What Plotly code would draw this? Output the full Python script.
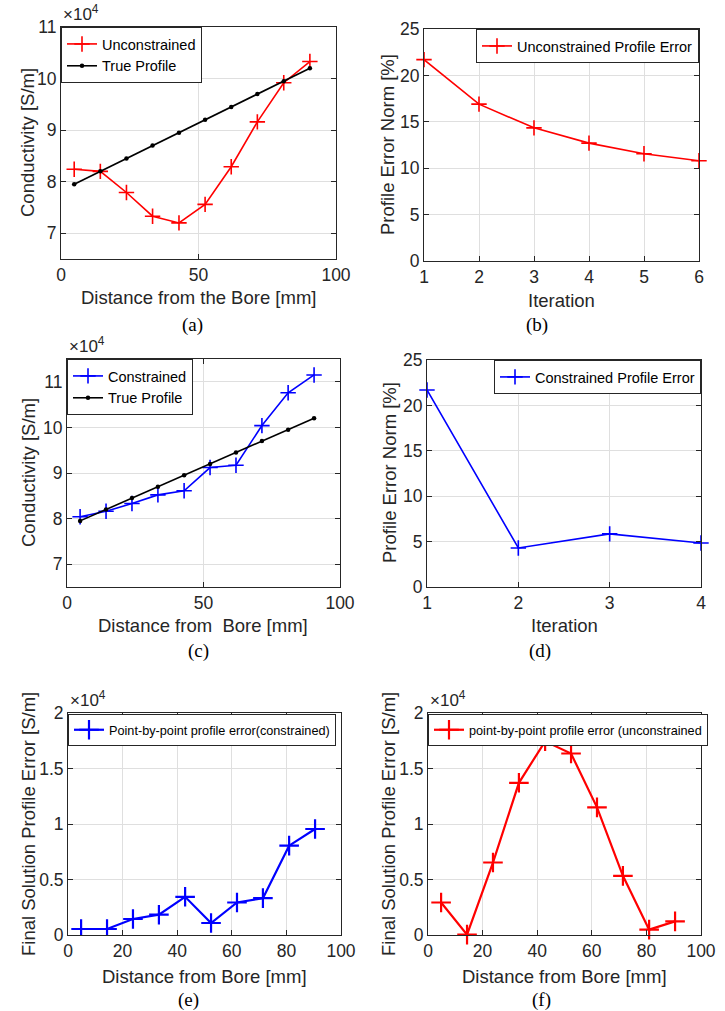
import plotly.graph_objects as go

# ---------------- data ----------------
# distance from the bore [mm]
distance_mm = [4.8, 14.3, 23.8, 33.3, 42.9, 52.4, 61.9, 71.4, 81.0, 90.5]
# conductivity values in units of 1e4 S/m
true_profile = [7.95, 8.20, 8.45, 8.70, 8.95, 9.20, 9.45, 9.70, 9.95, 10.20]
unconstrained = [8.24, 8.20, 7.79, 7.33, 7.20, 7.56, 8.29, 9.16, 9.92, 10.33]
constrained = [8.04, 8.16, 8.33, 8.52, 8.61, 9.12, 9.17, 10.04, 10.76, 11.15]

iter_unc = [1, 2, 3, 4, 5, 6]
err_unc = [21.7, 16.9, 14.35, 12.7, 11.55, 10.8]
iter_con = [1, 2, 3, 4]
err_con = [21.7, 4.3, 5.85, 4.85]

# point-by-point error, units of 1e4 S/m
pp_err_con = [0.054, 0.054, 0.144, 0.183, 0.344, 0.108, 0.293, 0.332, 0.805, 0.955]
pp_err_unc = [0.293, 0.003, 0.653, 1.371, 1.745, 1.635, 1.15, 0.533, 0.048, 0.123]

ticks_cond = [7, 8, 9, 10, 11]
ticks_err = [0, 5, 10, 15, 20, 25]
ticks_pp = [0, 0.5, 1, 1.5, 2]
ticklabels_pp = ["0", "0.5", "1", "1.5", "2"]

# ---------------- layout helpers ----------------
W, H = 725, 1011
def px(x):
    return x / W
def py(y):
    return 1 - y / H

TXT = "#262626"
GRID = "#dfdfdf"
SANS = "Liberation Sans, Arial, sans-serif"
SERIF = "Liberation Serif, Times New Roman, serif"

fig = go.Figure()

# panel boxes in pixels: (left, right, top, bottom)
boxes = {
    1: (61, 336, 27, 259),
    2: (424, 699, 29, 261),
    3: (67, 340, 359, 587),
    4: (427, 701, 360, 587),
    5: (68, 341, 713, 935),
    6: (428, 701, 713, 935),
}

def axname(i, a):
    return f"{a}axis" if i == 1 else f"{a}axis{i}"

def ref(i, a):
    return a if i == 1 else f"{a}{i}"

axis_common = dict(
    showline=True, linecolor=TXT, linewidth=1, mirror="ticks",
    ticks="inside", ticklen=5, tickcolor=TXT, tickwidth=1,
    showgrid=True, gridcolor=GRID, gridwidth=1, zeroline=False,
    automargin=False,
    tickfont=dict(family=SANS, size=17.5, color=TXT),
)

xcfg = {
    1: dict(range=[0, 100], tickvals=[0, 50, 100]),
    2: dict(range=[1, 6], tickvals=iter_unc),
    3: dict(range=[0, 100], tickvals=[0, 50, 100]),
    4: dict(range=[1, 4], tickvals=iter_con),
    5: dict(range=[0, 100], tickvals=[0, 20, 40, 60, 80, 100]),
    6: dict(range=[0, 100], tickvals=[0, 20, 40, 60, 80, 100]),
}
ycfg = {
    1: dict(range=[6.5, 11], tickvals=ticks_cond),
    2: dict(range=[0, 25], tickvals=ticks_err),
    3: dict(range=[6.5, 11.5], tickvals=ticks_cond),
    4: dict(range=[0, 25], tickvals=ticks_err),
    5: dict(range=[0, 2], tickvals=ticks_pp, ticktext=ticklabels_pp),
    6: dict(range=[0, 2], tickvals=ticks_pp, ticktext=ticklabels_pp),
}

layout_upd = {}
for i, (l, r, t, b) in boxes.items():
    layout_upd[axname(i, "x")] = dict(axis_common, domain=[px(l), px(r)],
                                      anchor=ref(i, "y"), **xcfg[i])
    layout_upd[axname(i, "y")] = dict(axis_common, domain=[py(b), py(t)],
                                      anchor=ref(i, "x"), **ycfg[i])
fig.update_layout(**layout_upd)

RED = "#ff0000"
BLUE = "#0000ff"

def cross(color, size=11, w=1.6):
    return dict(symbol="cross-thin", size=size, color=color,
                line=dict(color=color, width=w))

# (a)
fig.add_trace(go.Scatter(x=distance_mm, y=unconstrained, mode="lines+markers",
                         name="Unconstrained", line=dict(color=RED, width=1.6),
                         marker=cross(RED), xaxis="x", yaxis="y", legend="legend"))
fig.add_trace(go.Scatter(x=distance_mm, y=true_profile, mode="lines+markers",
                         name="True Profile", line=dict(color="black", width=1.6),
                         marker=dict(symbol="circle", size=4.5, color="black"),
                         xaxis="x", yaxis="y", legend="legend"))
# (b)
fig.add_trace(go.Scatter(x=iter_unc, y=err_unc, mode="lines+markers",
                         name="Unconstrained Profile Error", line=dict(color=RED, width=1.6),
                         marker=cross(RED), xaxis="x2", yaxis="y2", legend="legend2",
                         cliponaxis=False))
# (c)
fig.add_trace(go.Scatter(x=distance_mm, y=constrained, mode="lines+markers",
                         name="Constrained", line=dict(color=BLUE, width=1.6),
                         marker=cross(BLUE), xaxis="x3", yaxis="y3", legend="legend3"))
fig.add_trace(go.Scatter(x=distance_mm, y=true_profile, mode="lines+markers",
                         name="True Profile", line=dict(color="black", width=1.6),
                         marker=dict(symbol="circle", size=4.5, color="black"),
                         xaxis="x3", yaxis="y3", legend="legend3"))
# (d)
fig.add_trace(go.Scatter(x=iter_con, y=err_con, mode="lines+markers",
                         name="Constrained Profile Error", line=dict(color=BLUE, width=1.6),
                         marker=cross(BLUE), xaxis="x4", yaxis="y4", legend="legend4",
                         cliponaxis=False))
# (e)
fig.add_trace(go.Scatter(x=distance_mm, y=pp_err_con, mode="lines+markers",
                         name="Point-by-point profile error(constrained)",
                         line=dict(color=BLUE, width=2.2),
                         marker=cross(BLUE, size=14, w=2.2),
                         xaxis="x5", yaxis="y5", legend="legend5"))
# (f)
fig.add_trace(go.Scatter(x=distance_mm, y=pp_err_unc, mode="lines+markers",
                         name="point-by-point profile error (unconstrained",
                         line=dict(color=RED, width=2.2),
                         marker=cross(RED, size=14, w=2.2),
                         xaxis="x6", yaxis="y6", legend="legend6", cliponaxis=False))

# legends
leg_common = dict(bgcolor="white", bordercolor=TXT, borderwidth=1,
                  font=dict(family=SANS, size=14.5, color="black"),
                  yanchor="top", tracegroupgap=0, itemwidth=30)
small_font = dict(family=SANS, size=12.7, color="black")
fig.update_layout(
    showlegend=True,
    legend=dict(leg_common, x=px(61), y=py(27), xanchor="left"),
    legend2=dict(leg_common, x=px(699), y=py(29), xanchor="right"),
    legend3=dict(leg_common, x=px(67), y=py(359), xanchor="left"),
    legend4=dict(leg_common, x=px(701), y=py(360), xanchor="right"),
    legend5=dict(leg_common, x=px(68), y=py(714), xanchor="left", font=small_font),
    legend6=dict(leg_common, x=px(428), y=py(714), xanchor="left", font=small_font),
)

annotations = []
def ann(text, x, y, size=18.5, family=SANS, angle=0, xanchor="center", yanchor="middle", color=TXT):
    annotations.append(dict(text=text, x=px(x), y=py(y), xref="paper", yref="paper",
                            showarrow=False, textangle=angle, xanchor=xanchor,
                            yanchor=yanchor, font=dict(family=family, size=size, color=color)))

# axis titles
ann("Distance from the Bore [mm]", 198.5, 297)
ann("Conductivity [S/m]", 27, 143, angle=-90)
ann("Iteration", 561, 300)
ann("Profile Error Norm [%]", 387, 145, angle=-90)
ann("Distance from&nbsp;&nbsp;Bore [mm]", 203, 625)
ann("Conductivity [S/m]", 28, 473, angle=-90)
ann("Iteration", 564, 625)
ann("Profile Error Norm [%]", 389, 473, angle=-90)
ann("Distance from Bore [mm]", 204.5, 976)
ann("Final Solution Profile Error [S/m]", 28, 824, angle=-90)
ann("Distance from Bore [mm]", 564.5, 976)
ann("Final Solution Profile Error [S/m]", 388, 824, angle=-90)

# exponent labels
for (l, r, t, b) in [boxes[1], boxes[3], boxes[5], boxes[6]]:
    ann("×10<sup>4</sup>", l, t - 1, size=17, xanchor="left", yanchor="bottom")

# captions
ann("(a)", 192, 325, size=19, family=SERIF, color="black")
ann("(b)", 537, 325, size=19, family=SERIF, color="black")
ann("(c)", 198, 651, size=19, family=SERIF, color="black")
ann("(d)", 540, 651, size=19, family=SERIF, color="black")
ann("(e)", 188, 1000, size=19, family=SERIF, color="black")
ann("(f)", 541, 1000, size=19, family=SERIF, color="black")

fig.update_layout(annotations=annotations, width=W, height=H,
                  margin=dict(l=0, r=0, t=0, b=0),
                  paper_bgcolor="white", plot_bgcolor="white")

fig.write_html("out.html", config={"displayModeBar": False},
               post_script="document.body.style.margin='0px';document.body.style.overflow='hidden';")
